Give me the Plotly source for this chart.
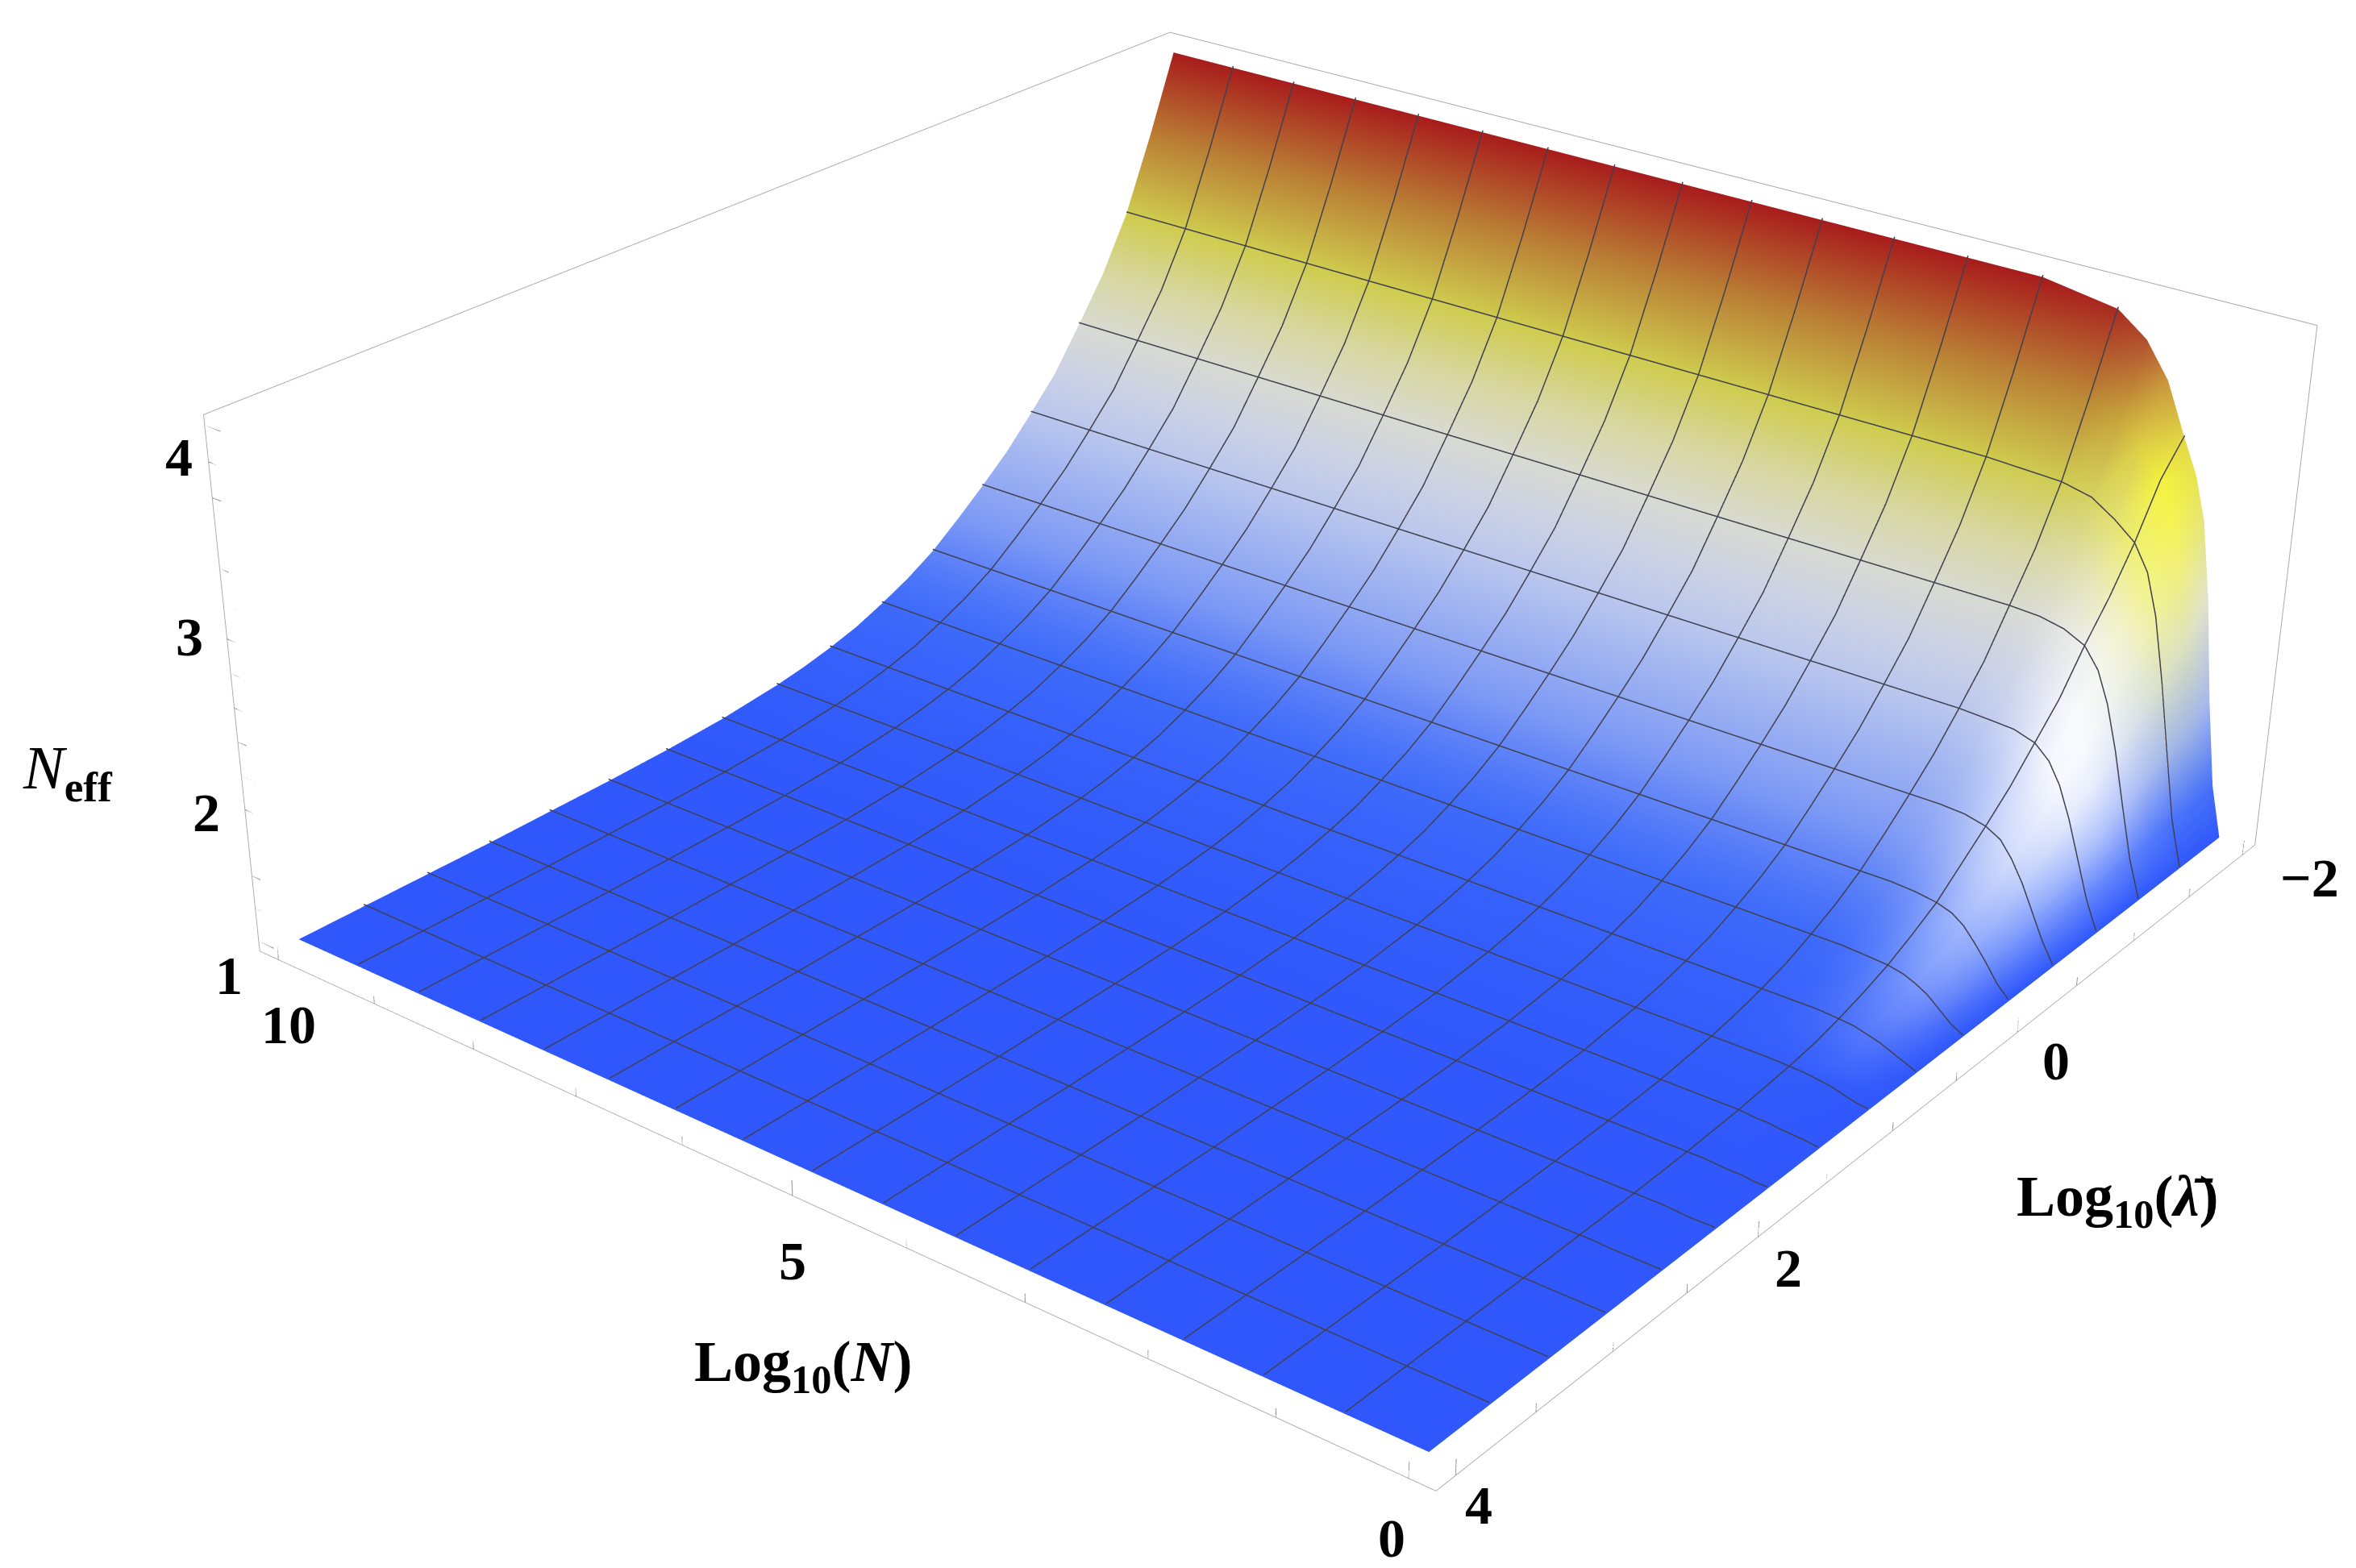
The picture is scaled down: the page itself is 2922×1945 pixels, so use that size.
import plotly.graph_objects as go

# Low-N part of the surface: one row per log10(lambda), one column per entry of ramp_n.
ramp_n = [0, 0.1, 0.2, 0.3, 0.4, 0.5, 0.625, 0.8, 1, 1.25]
flat_n = [1.875, 2.5, 3.125, 3.75, 4.375, 5, 5.625, 6.25, 6.875, 7.5, 8.125, 8.75, 9.375, 10]
log_lambda = [-2, -1.8125, -1.625, -1.4375, -1.25, -1.0625, -0.875, -0.6875, -0.5, -0.3125,
              -0.125, 0.0625, 0.25, 0.4375, 0.625, 0.8125, 1, 1.375, 1.75, 2.125, 2.5,
              2.875, 3.25, 3.625, 4]
ramp = [
    [1, 1.30, 1.80, 2.40, 2.85, 3.10, 3.30, 3.60, 3.80, 3.93],
    [1, 1.28, 1.71, 2.23, 2.66, 2.94, 3.12, 3.29, 3.41, 3.48],
    [1, 1.27, 1.67, 2.08, 2.44, 2.68, 2.83, 2.93, 3.02, 3.06],
    [1, 1.25, 1.60, 1.96, 2.25, 2.47, 2.59, 2.68, 2.72, 2.74],
    [1, 1.22, 1.52, 1.83, 2.09, 2.27, 2.39, 2.45, 2.48, 2.49],
    [1, 1.20, 1.45, 1.71, 1.92, 2.07, 2.16, 2.21, 2.23, 2.24],
    [1, 1.17, 1.39, 1.61, 1.79, 1.91, 1.99, 2.03, 2.04, 2.05],
    [1, 1.14, 1.32, 1.50, 1.65, 1.76, 1.82, 1.85, 1.86, 1.87],
    [1, 1.12, 1.27, 1.42, 1.54, 1.63, 1.68, 1.71, 1.72, 1.72],
    [1, 1.09, 1.21, 1.34, 1.44, 1.50, 1.55, 1.57, 1.58, 1.58],
    [1, 1.07, 1.17, 1.26, 1.34, 1.39, 1.42, 1.44, 1.45, 1.45],
    [1, 1.06, 1.13, 1.20, 1.26, 1.30, 1.33, 1.34, 1.35, 1.35],
    [1, 1.04, 1.10, 1.16, 1.20, 1.23, 1.25, 1.26, 1.27, 1.27],
    [1, 1.03, 1.08, 1.12, 1.15, 1.17, 1.19, 1.20, 1.20, 1.20],
    [1, 1.03, 1.06, 1.09, 1.11, 1.13, 1.14, 1.15, 1.15, 1.15],
    [1, 1.02, 1.04, 1.06, 1.08, 1.09, 1.10, 1.11, 1.11, 1.11],
    [1, 1.01, 1.03, 1.05, 1.06, 1.07, 1.075, 1.08, 1.08, 1.08],
    [1, 1.01, 1.015, 1.02, 1.03, 1.03, 1.04, 1.04, 1.04, 1.04],
    [1, 1.00, 1.01, 1.01, 1.015, 1.02, 1.02, 1.02, 1.02, 1.02],
    [1, 1.00, 1.00, 1.005, 1.01, 1.01, 1.01, 1.01, 1.01, 1.01],
    [1, 1.00, 1.00, 1.00, 1.00, 1.005, 1.005, 1.005, 1.005, 1.005],
    [1, 1, 1, 1, 1, 1, 1, 1, 1, 1],
    [1, 1, 1, 1, 1, 1, 1, 1, 1, 1],
    [1, 1, 1, 1, 1, 1, 1, 1, 1, 1],
    [1, 1, 1, 1, 1, 1, 1, 1, 1, 1],
]
# Value of N_eff once N is large, same rows as ramp.
plateau = [4, 3.52, 3.08, 2.75, 2.49, 2.24, 2.05, 1.87, 1.72, 1.58, 1.45, 1.35, 1.27, 1.20,
           1.15, 1.11, 1.08, 1.04, 1.02, 1.01, 1.005, 1, 1, 1, 1]
# Brightening seen on the steep low-N wall (share of white), first rows of ramp.
white_glow = [
    [0, .03, .08, .12, .14, .14, .11, .06, .02, 0],
    [0, .05, .12, .18, .21, .21, .17, .09, .03, 0],
    [0, .07, .18, .30, .36, .36, .28, .14, .05, 0],
    [0, .12, .32, .50, .58, .58, .46, .24, .07, 0],
    [0, .17, .45, .68, .80, .80, .62, .34, .10, 0],
    [0, .20, .52, .80, .92, .92, .75, .42, .12, 0],
    [0, .20, .52, .78, .92, .88, .68, .36, .10, 0],
    [0, .19, .48, .68, .78, .72, .52, .28, .09, 0],
    [0, .17, .42, .60, .68, .60, .45, .25, .08, 0],
    [0, .15, .36, .52, .58, .52, .37, .19, .06, 0],
    [0, .12, .30, .44, .48, .44, .30, .15, .05, 0],
    [0, .10, .26, .37, .42, .37, .26, .13, .04, 0],
    [0, .08, .20, .30, .33, .28, .20, .10, .03, 0],
    [0, .06, .14, .22, .24, .20, .14, .07, .02, 0],
    [0, .04, .09, .14, .15, .13, .09, .05, .01, 0],
    [0, .02, .05, .07, .08, .06, .04, .02, .01, 0],
]
yellow_glow = [
    [0, 0, .03, .12, .30, .42, .45, .22, .04, 0],
    [0, 0, .08, .25, .50, .68, .72, .38, .10, 0],
    [0, 0, .08, .22, .38, .50, .48, .25, .06, 0],
    [0, 0, .03, .08, .15, .20, .18, .08, .02, 0],
    [0, 0, 0, .02, .04, .05, .03, .01, 0, 0],
]
x_ticks = [0, 5, 10]
x_minor = [1, 2, 3, 4, 6, 7, 8, 9]
y_ticks = [-2, 0, 2, 4]
y_minor = [-1.5, -1, -0.5, 0.5, 1, 1.5, 2.5, 3, 3.5]
z_ticks = [1, 2, 3, 4]
z_minor = [1.2, 1.4, 1.6, 1.8, 2.2, 2.4, 2.6, 2.8, 3.2, 3.4, 3.6, 3.8]
x_range = [-0.2, 10.2]
y_range = [-2.12, 4.12]
z_range = [0.94, 4.06]
color_stops = [
    (1.0, (47, 87, 252)), (1.3, (63, 108, 250)), (1.6, (127, 155, 245)), (2.0, (181, 195, 239)),
    (2.4, (216, 218, 224)), (2.7, (217, 217, 176)), (3.08, (207, 204, 79)), (3.4, (192, 154, 56)),
    (3.7, (176, 90, 48)), (4.0, (168, 28, 28)),
]

log_n = ramp_n + flat_n
n_eff = [r + [p] * len(flat_n) for r, p in zip(ramp, plateau)]

SERIF = "Liberation Serif"
BOX = "#a8a8a8"
MESH = "#40404e"


def mix(a, b, t):
    return tuple(p + (q - p) * t for p, q in zip(a, b))


def height_color(v):
    for (v0, c0), (v1, c1) in zip(color_stops, color_stops[1:]):
        if v <= v1:
            return mix(c0, c1, (v - v0) / (v1 - v0))
    return color_stops[-1][1]


def glow_at(table, i, j):
    return table[i][j] if i < len(table) and j < len(table[i]) else 0


vx, vy, vz, vc = [], [], [], []
for i, lam in enumerate(log_lambda):
    for j, n in enumerate(log_n):
        vx.append(n)
        vy.append(lam)
        vz.append(n_eff[i][j])
        c = mix(height_color(n_eff[i][j]), (255, 255, 255), glow_at(white_glow, i, j))
        c = mix(c, (255, 255, 48), glow_at(yellow_glow, i, j))
        vc.append("rgb({:.0f},{:.0f},{:.0f})".format(*c))
ncol = len(log_n)
ti, tj, tk = [], [], []
for i in range(len(log_lambda) - 1):
    for j in range(ncol - 1):
        a = i * ncol + j
        ti += [a, a]
        tj += [a + 1, a + ncol + 1]
        tk += [a + ncol + 1, a + ncol]

fig = go.Figure(go.Mesh3d(
    x=vx, y=vy, z=vz, i=ti, j=tj, k=tk, vertexcolor=vc,
    lighting=dict(ambient=1.0, diffuse=0.0, specular=0.0, roughness=1.0, fresnel=0.0),
    flatshading=False, hoverinfo="skip", showscale=False,
))

# Mesh lines follow the grid rows and columns of n_eff.
mesh_x, mesh_y, mesh_z = [], [], []
for j in range(ncol):
    if log_n[j] in (0.625, 1.25) or log_n[j] in flat_n[:-1]:
        mesh_x += [log_n[j]] * len(log_lambda) + [None]
        mesh_y += log_lambda + [None]
        mesh_z += [row[j] + 0.012 for row in n_eff] + [None]
for i in range(1, len(log_lambda) - 1):
    if i <= 16 and i % 2 == 0 or i >= 16:
        mesh_x += log_n + [None]
        mesh_y += [log_lambda[i]] * ncol + [None]
        mesh_z += [v + 0.012 for v in n_eff[i]] + [None]
fig.add_trace(go.Scatter3d(x=mesh_x, y=mesh_y, z=mesh_z, mode="lines",
                           line=dict(color=MESH, width=3), hoverinfo="skip", showlegend=False))


def tick_trace(xs, ys, zs):
    fig.add_trace(go.Scatter3d(x=xs, y=ys, z=zs, mode="lines",
                               line=dict(color="#8c8c8c", width=2),
                               hoverinfo="skip", showlegend=False))


def segments(values, major, build):
    xs, ys, zs = [], [], []
    for v in values:
        a, b = build(v, v in major)
        xs += [a[0], b[0], None]
        ys += [a[1], b[1], None]
        zs += [a[2], b[2], None]
    tick_trace(xs, ys, zs)


segments(x_ticks + x_minor, x_ticks,
         lambda v, m: ((v, y_range[1], z_range[0]), (v, y_range[1], z_range[0] + (0.09 if m else 0.05))))
segments(y_ticks + y_minor, y_ticks,
         lambda v, m: ((x_range[0], v, z_range[0]), (x_range[0], v, z_range[0] + (0.09 if m else 0.05))))
segments(z_ticks + z_minor, z_ticks,
         lambda v, m: ((x_range[1], y_range[1], v), (x_range[1] - (0.16 if m else 0.09), y_range[1], v)))


def axis(rng):
    return dict(
        title=dict(text=""), range=rng, showticklabels=False, ticks="", ticklen=0, tickwidth=0,
        tickvals=[], showgrid=False, zeroline=False, showbackground=False, showspikes=False,
        showline=True, linecolor=BOX, linewidth=2, mirror="all",
    )


def note(text, px, py, size):
    return dict(text=text, x=px / 1568, y=1 - py / 1044, xref="paper", yref="paper",
                xanchor="center", yanchor="middle", showarrow=False,
                font=dict(family=SERIF, size=size, color="black"))


tick_notes = []
for v, p in zip(z_ticks, [(148, 645), (133, 537), (122, 420), (115, 300)]):
    tick_notes.append(note(f"<b>{v}</b>", p[0], p[1], 68))
for v, p in zip(x_ticks, [(922, 1020), (523, 835), (188, 678)]):
    tick_notes.append(note(f"<b>{v}</b>", p[0], p[1], 68))
for v, p in zip(y_ticks, [(1533, 580), (1364, 702), (1186, 840), (980, 998)]):
    tick_notes.append(note(f"<b>{str(v).replace('-', chr(0x2212))}</b>", p[0], p[1], 68))

fig.update_layout(
    width=2922, height=1945, margin=dict(l=0, r=0, t=0, b=0), showlegend=False,
    paper_bgcolor="white", font=dict(family=SERIF, color="black"),
    scene=dict(
        domain=dict(x=[0, 1], y=[0, 1]),
        xaxis=axis(x_range), yaxis=axis(y_range), zaxis=axis(z_range),
        aspectmode="manual", aspectratio=dict(x=1, y=1, z=0.4),
        camera=dict(eye=dict(x=-1.753, y=2.293, z=1.387), up=dict(x=0, y=0, z=1),
                    center=dict(x=0.022, y=0.078, z=-0.091)),
    ),
    annotations=tick_notes + [
        note("<b>Log<sub>10</sub>(<i>N</i>)</b>", 530, 905, 72),
        note("<b>Log<sub>10</sub>(<i>\u03bb\u0304</i>)</b>", 1405, 795, 72),
        note("<i>N</i><sub><b>eff</b></sub>", 41, 510, 76),
    ],
)

narrow_view = """
var gd = document.getElementById('{plot_id}');
var glplot = gd._fullLayout.scene._scene.glplot;
glplot.fovy = 0.332;
glplot.redraw();
"""
fig.write_html("out.html", post_script=narrow_view)
